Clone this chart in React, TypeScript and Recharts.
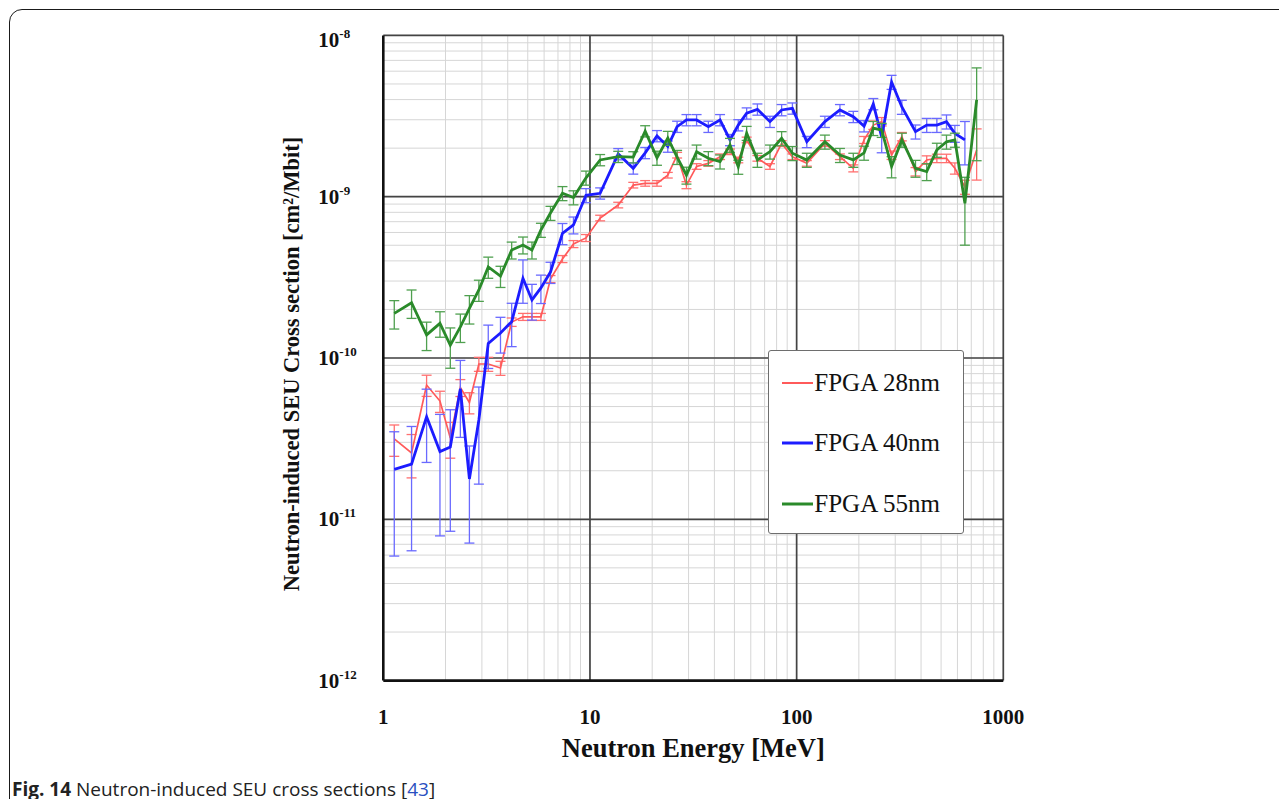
import React from 'react';
import { LineChart, Line, XAxis, YAxis, CartesianGrid, ErrorBar, ReferenceLine } from 'recharts';

// Neutron energy bins [MeV]
const energyMeV = [1.13, 1.37, 1.62, 1.88, 2.11, 2.36, 2.61, 2.9, 3.22, 3.69, 4.18, 4.74, 5.24, 5.79, 6.44, 7.36, 8.32, 9.57, 11.2, 13.7, 16.2, 18.5, 21.1, 23.8, 26.4, 29.3, 32.8, 37.4, 42.6, 47.6, 52.2, 57.3, 64.6, 74.3, 84.6, 95.4, 112, 137, 162, 188, 212, 235, 258, 288, 323, 376, 426, 477, 531, 583, 652, 743];

// SEU cross sections [cm^2/Mbit]
const fpga28nm = [3.15e-11, 2.58e-11, 6.8e-11, 5.41e-11, 3.19e-11, 6.56e-11, 5.3e-11, 9.18e-11, 9.18e-11, 8.67e-11, 1.67e-10, 1.8e-10, 1.8e-10, 1.8e-10, 3.09e-10, 4.11e-10, 5.09e-10, 5.55e-10, 7.38e-10, 8.88e-10, 1.18e-9, 1.21e-9, 1.21e-9, 1.36e-9, 1.81e-9, 1.18e-9, 1.54e-9, 1.61e-9, 1.77e-9, 1.9e-9, 1.69e-9, 2.25e-9, 1.73e-9, 1.54e-9, 2.14e-9, 1.77e-9, 1.61e-9, 2.14e-9, 1.77e-9, 1.5e-9, 2.25e-9, 2.78e-9, 2.92e-9, 1.81e-9, 2.36e-9, 1.43e-9, 1.69e-9, 1.73e-9, 1.73e-9, 1.5e-9, 1.15e-9, 1.95e-9];
const fpga40nm = [2.04e-11, 2.2e-11, 4.33e-11, 2.63e-11, 2.81e-11, 6.44e-11, 1.78e-11, 4.13e-11, 1.23e-10, 1.43e-10, 1.68e-10, 3.12e-10, 2.29e-10, 2.72e-10, 3.41e-10, 5.93e-10, 6.68e-10, 1.02e-9, 1.05e-9, 1.84e-9, 1.5e-9, 1.87e-9, 2.38e-9, 2.05e-9, 2.72e-9, 2.99e-9, 2.99e-9, 2.72e-9, 2.99e-9, 2.25e-9, 2.78e-9, 3.29e-9, 3.48e-9, 2.92e-9, 3.45e-9, 3.53e-9, 2.19e-9, 2.92e-9, 3.45e-9, 3.13e-9, 2.74e-9, 3.76e-9, 2.34e-9, 5.14e-9, 3.6e-9, 2.53e-9, 2.78e-9, 2.78e-9, 2.92e-9, 2.47e-9, 2.25e-9, null];
const fpga55nm = [1.89e-10, 2.2e-10, 1.39e-10, 1.64e-10, 1.2e-10, 1.56e-10, 2.03e-10, 2.64e-10, 3.67e-10, 3.22e-10, 4.67e-10, 5.02e-10, 4.67e-10, 6.22e-10, 7.92e-10, 1.05e-9, 9.89e-10, 1.31e-9, 1.69e-9, 1.77e-9, 1.76e-9, 2.55e-9, 1.74e-9, 2.31e-9, 1.76e-9, 1.36e-9, 1.9e-9, 1.73e-9, 1.65e-9, 2.09e-9, 1.53e-9, 2.48e-9, 1.69e-9, 1.9e-9, 2.3e-9, 1.86e-9, 1.69e-9, 2.19e-9, 1.81e-9, 1.69e-9, 1.87e-9, 2.66e-9, 2.59e-9, 1.54e-9, 2.25e-9, 1.5e-9, 1.43e-9, 1.95e-9, 2.19e-9, 2.25e-9, 9.1e-10, 3.98e-9];

// relative (fractional) uncertainties
const relErr28 = [0.22, 0.3, 0.15, 0.15, 0.25, 0.12, 0.15, 0.1, 0.1, 0.1, 0.06, 0.05, 0.05, 0.05, 0.05, 0.05, 0.05, 0.05, 0.04, 0.04, 0.04, 0.04, 0.04, 0.04, 0.04, 0.05, 0.04, 0.04, 0.04, 0.04, 0.04, 0.04, 0.04, 0.04, 0.04, 0.04, 0.04, 0.04, 0.04, 0.05, 0.05, 0.06, 0.06, 0.06, 0.06, 0.06, 0.06, 0.06, 0.06, 0.08, 0.1, 0.35];
const relErr40 = [0.71, 0.71, 0.48, 0.7, 0.7, 0.5, 0.6, 0.6, 0.3, 0.25, 0.3, 0.3, 0.25, 0.2, 0.15, 0.15, 0.12, 0.1, 0.08, 0.08, 0.08, 0.08, 0.08, 0.08, 0.08, 0.08, 0.08, 0.08, 0.08, 0.08, 0.08, 0.08, 0.08, 0.08, 0.08, 0.08, 0.08, 0.08, 0.08, 0.08, 0.08, 0.08, 0.2, 0.1, 0.1, 0.1, 0.1, 0.1, 0.1, 0.12, 0.3, 0];
const relErr55 = [0.2, 0.2, 0.2, 0.18, 0.28, 0.2, 0.2, 0.15, 0.15, 0.15, 0.12, 0.12, 0.12, 0.1, 0.1, 0.1, 0.1, 0.1, 0.08, 0.08, 0.08, 0.08, 0.1, 0.1, 0.1, 0.12, 0.1, 0.1, 0.1, 0.1, 0.1, 0.1, 0.1, 0.1, 0.1, 0.1, 0.1, 0.1, 0.1, 0.1, 0.1, 0.1, 0.1, 0.15, 0.1, 0.12, 0.12, 0.1, 0.1, 0.1, 0.45, 0.58];

const seriesNames = ['FPGA 28nm', 'FPGA 40nm', 'FPGA 55nm'];

const xMajorTicks = [1, 10, 100, 1000];
const yMajorTicks = [1e-12, 1e-11, 1e-10, 1e-9, 1e-8];
const minorMultipliers = [1, 2, 3, 4, 5, 6, 7, 8, 9];

const buildTicks = (majors: number[]) => {
  const out: number[] = [];
  for (let i = 0; i < majors.length - 1; i++) {
    minorMultipliers.forEach((m) => out.push(majors[i] * m));
  }
  out.push(majors[majors.length - 1]);
  return out;
};
const xTicks = buildTicks(xMajorTicks);
const yTicks = buildTicks(yMajorTicks);

const errPair = (v: number | null, r: number) => (v == null ? null : [v * r, v * r]);

const data = energyMeV.map((e, i) => ({
  e,
  s28: fpga28nm[i],
  s40: fpga40nm[i],
  s55: fpga55nm[i],
  e28: errPair(fpga28nm[i], relErr28[i]),
  e40: errPair(fpga40nm[i], relErr40[i]),
  e55: errPair(fpga55nm[i], relErr55[i]),
}));

const SERIF = "'Liberation Serif', 'Times New Roman', serif";

const isMajor = (v: number) => {
  const l = Math.log10(v);
  return Math.abs(l - Math.round(l)) < 1e-6;
};

const YTick = (props: any) => {
  const { x, y, payload } = props;
  const v = payload.value;
  if (!isMajor(v)) return <g />;
  const exp = Math.round(Math.log10(v));
  const dy = exp === -8 ? 12 : 7;
  return (
    <text x={x - 65} y={y + dy} fontFamily={SERIF} fontWeight="bold" fontSize={21} fill="#111" textAnchor="start">
      <tspan>10</tspan>
      <tspan dy={-9} fontSize={13}>{String(exp)}</tspan>
    </text>
  );
};

const XTick = (props: any) => {
  const { x, y, payload } = props;
  const v = payload.value;
  if (!isMajor(v)) return <g />;
  return (
    <text x={x} y={y + 43} fontFamily={SERIF} fontWeight="bold" fontSize={21} fill="#111" textAnchor="middle">
      {String(v)}
    </text>
  );
};

const XTitle = (props: any) => {
  const vb = props.viewBox;
  return (
    <text x={vb.x + vb.width / 2} y={vb.y + 76} fontFamily={SERIF} fontWeight="bold" fontSize={26.5} fill="#111" textAnchor="middle">
      Neutron Energy [MeV]
    </text>
  );
};

const YTitle = (props: any) => {
  const vb = props.viewBox;
  const cx = vb.x - 12;
  const cy = vb.y + vb.height / 2 + 6;
  return (
    <text x={cx} y={cy} transform={`rotate(-90, ${cx}, ${cy})`} fontFamily={SERIF} fontWeight="bold" fontSize={22.5} fill="#111" textAnchor="middle" dominantBaseline="central">
      Neutron-induced SEU Cross section [cm²/Mbit]
    </text>
  );
};

const lineColors = ['#ff5a5a', '#1c1cff', '#2a8a2a'];
const errColors = ['#ff7070', '#6a6aff', '#4fa04f'];
const lineWidths = [1.7, 2.8, 2.8];

export default function App() {
  return (
    <div style={{ position: 'relative', width: 1271, height: 799, marginBottom: -8, overflow: 'hidden', background: '#fff' }}>
      <div style={{ position: 'absolute', left: 1, top: 1, width: 1500, height: 1200, border: '1.6px solid #1a1a1a', borderRadius: 13, boxSizing: 'border-box' }} />
      <LineChart
        width={1271}
        height={791}
        data={data}
        margin={{ top: 27.4, right: 275.7, bottom: 58.4, left: 295.3 }}
        style={{ position: 'absolute', left: 0, top: 0 }}
      >
        <CartesianGrid stroke="#d6d6d6" strokeWidth={1} />
        <XAxis
          dataKey="e"
          type="number"
          scale="log"
          domain={[1, 1000]}
          allowDataOverflow
          ticks={xTicks}
          interval={0}
          height={60}
          tickSize={0}
          tickMargin={0}
          tickLine={false}
          tick={<XTick />}
          axisLine={{ stroke: '#111', strokeWidth: 2.6 }}
          label={{ content: <XTitle /> }}
        />
        <YAxis
          type="number"
          scale="log"
          domain={[1e-12, 1e-8]}
          allowDataOverflow
          ticks={yTicks}
          interval={0}
          width={80}
          tickSize={0}
          tickMargin={0}
          tickLine={false}
          tick={<YTick />}
          axisLine={{ stroke: '#111', strokeWidth: 2.6 }}
          label={{ content: <YTitle /> }}
        />
        {xMajorTicks.slice(1).map((v) => (
          <ReferenceLine key={'vx' + v} x={v} stroke="#444" strokeWidth={1.7} />
        ))}
        {yMajorTicks.slice(1).map((v) => (
          <ReferenceLine key={'hy' + v} y={v} stroke="#444" strokeWidth={1.7} />
        ))}
        <Line type="linear" dataKey="s28" name={seriesNames[0]} stroke={lineColors[0]} strokeWidth={lineWidths[0]} dot={false} isAnimationActive={false}>
          <ErrorBar dataKey="e28" direction="y" width={5} stroke={errColors[0]} strokeWidth={1.3} />
        </Line>
        <Line type="linear" dataKey="s40" name={seriesNames[1]} stroke={lineColors[1]} strokeWidth={lineWidths[1]} dot={false} isAnimationActive={false}>
          <ErrorBar dataKey="e40" direction="y" width={5} stroke={errColors[1]} strokeWidth={1.3} />
        </Line>
        <Line type="linear" dataKey="s55" name={seriesNames[2]} stroke={lineColors[2]} strokeWidth={lineWidths[2]} dot={false} isAnimationActive={false}>
          <ErrorBar dataKey="e55" direction="y" width={5} stroke={errColors[2]} strokeWidth={1.3} />
        </Line>
      </LineChart>
      <div
        style={{
          position: 'absolute', left: 760.3, top: 342, width: 196, height: 184,
          border: '1.8px solid #6e6e6e', borderRadius: 3, background: '#fff', boxSizing: 'border-box',
        }}
      >
        {seriesNames.map((n, i) => (
          <div key={n} style={{ position: 'absolute', left: 13, top: [31.7, 91.7, 153.3][i] - 16, height: 32, display: 'flex', alignItems: 'center' }}>
            <svg width={31} height={6} style={{ display: 'block' }}>
              <line x1={0} y1={3} x2={31} y2={3} stroke={lineColors[i]} strokeWidth={i === 0 ? 2 : 3} />
            </svg>
            <span style={{ fontFamily: SERIF, fontSize: 25, color: '#111', marginLeft: 1, whiteSpace: 'nowrap' }}>{n}</span>
          </div>
        ))}
      </div>
      <div style={{ position: 'absolute', left: 4, top: 769, fontFamily: "'Open Sans', sans-serif", fontSize: 19, lineHeight: '24px', color: '#222', whiteSpace: 'nowrap' }}>
        <b>Fig. 14</b> Neutron-induced SEU cross sections [<span style={{ color: '#2a4fc0' }}>43</span>]
      </div>
    </div>
  );
}
